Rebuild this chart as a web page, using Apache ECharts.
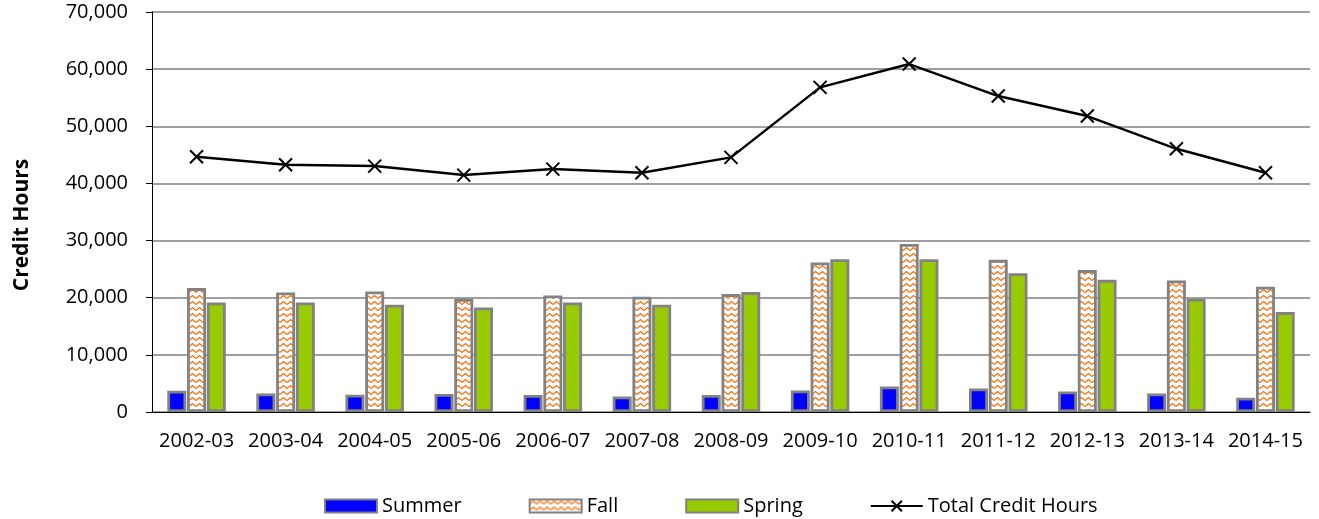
<!DOCTYPE html>
<html>
<head>
<meta charset="utf-8">
<script src="https://cdn.jsdelivr.net/npm/echarts@6/dist/echarts.min.js"></script>
<style>
  html, body { margin: 0; padding: 0; background: #fff; }
  #chart { width: 1319px; height: 519px; }
</style>
</head>
<body>
<div id="chart"></div>
<script>
// academic years
const categories = ['2002-03', '2003-04', '2004-05', '2005-06', '2006-07', '2007-08', '2008-09',
  '2009-10', '2010-11', '2011-12', '2012-13', '2013-14', '2014-15'];

// credit hours per term
const summer = [3720, 3250, 3020, 3150, 2970, 2730, 2970, 3780, 4480, 4130, 3600, 3250, 2500];
const fall = [21680, 20910, 21080, 19800, 20390, 20160, 20630, 26150, 29420, 26630, 24830, 23010, 21910];
const spring = [19160, 19160, 18760, 18290, 19160, 18760, 20980, 26750, 26750, 24300, 23130, 19810, 17480];
const totalHours = [44660, 43260, 43030, 41460, 42510, 41860, 44560, 56810, 60890, 55290, 51790, 46060, 41860];

const yTicks = [0, 10000, 20000, 30000, 40000, 50000, 60000, 70000];

const font = '"Open Sans", "Noto Sans", sans-serif';

// orange wave pattern for the Fall bars
function wavePattern() {
  const c = document.createElement('canvas');
  c.width = 7;
  c.height = 6;
  const ctx = c.getContext('2d');
  ctx.fillStyle = '#ffffff';
  ctx.fillRect(0, 0, 7, 6);
  ctx.strokeStyle = '#ff6a00';
  ctx.lineWidth = 1.3;
  ctx.beginPath();
  ctx.moveTo(0, 4.5);
  ctx.lineTo(3.5, 1.5);
  ctx.lineTo(7, 4.5);
  ctx.stroke();
  return c;
}

const myChart = echarts.init(document.getElementById('chart'));

const barBorder = { borderColor: '#828282', borderWidth: 2.8 };

myChart.setOption({
  animation: false,
  grid: { left: 152, right: 9, top: 12, bottom: 107 },
  graphic: [{
    type: 'text',
    x: 22,
    y: 225,
    rotation: Math.PI / 2,
    style: {
      text: 'Credit Hours',
      font: 'bold 21px ' + font,
      fill: '#000',
      align: 'center',
      verticalAlign: 'middle'
    }
  }],
  legend: {
    left: 319,
    top: 491,
    itemWidth: 52,
    itemHeight: 13,
    itemGap: 67,
    textStyle: { fontFamily: font, fontSize: 20, color: '#000' },
    data: [
      { name: 'Summer', icon: 'rect' },
      { name: 'Fall', icon: 'rect' },
      { name: 'Spring', icon: 'rect' },
      'Total Credit Hours'
    ]
  },
  xAxis: {
    type: 'category',
    data: categories,
    axisLine: { lineStyle: { color: '#000', width: 1 } },
    axisTick: { length: 6, interval: 0, lineStyle: { color: '#000' } },
    axisLabel: { interval: 0, hideOverlap: false, margin: 19, fontFamily: font, fontSize: 20, color: '#000' }
  },
  yAxis: {
    type: 'value',
    min: yTicks[0],
    max: yTicks[yTicks.length - 1],
    interval: 10000,
    axisLine: { show: true, lineStyle: { color: '#000', width: 1 } },
    axisTick: { show: true, length: 6, lineStyle: { color: '#000' } },
    axisLabel: {
      margin: 24,
      fontFamily: font,
      fontSize: 20,
      color: '#000',
      formatter: v => v.toLocaleString('en-US')
    },
    splitLine: { lineStyle: { color: '#7f7f7f', width: 1.5 } }
  },
  series: [
    {
      name: 'Summer',
      type: 'bar',
      data: summer,
      barWidth: 19,
      barGap: '4%',
      itemStyle: Object.assign({ color: '#0000ff' }, barBorder)
    },
    {
      name: 'Fall',
      type: 'bar',
      data: fall,
      barWidth: 19,
      barGap: '4%',
      itemStyle: Object.assign({ color: { image: wavePattern(), repeat: 'repeat' } }, barBorder)
    },
    {
      name: 'Spring',
      type: 'bar',
      data: spring,
      barWidth: 19,
      barGap: '4%',
      itemStyle: Object.assign({ color: '#99cc00' }, barBorder)
    },
    {
      name: 'Total Credit Hours',
      type: 'line',
      data: totalHours,
      z: 5,
      symbol: 'path://M0,0L10,10M10,0L0,10',
      symbolSize: 13,
      showAllSymbol: true,
      lineStyle: { color: '#000', width: 2.5 },
      itemStyle: { color: '#000', borderColor: '#000', borderWidth: 2 }
    }
  ]
});
</script>
</body>
</html>
